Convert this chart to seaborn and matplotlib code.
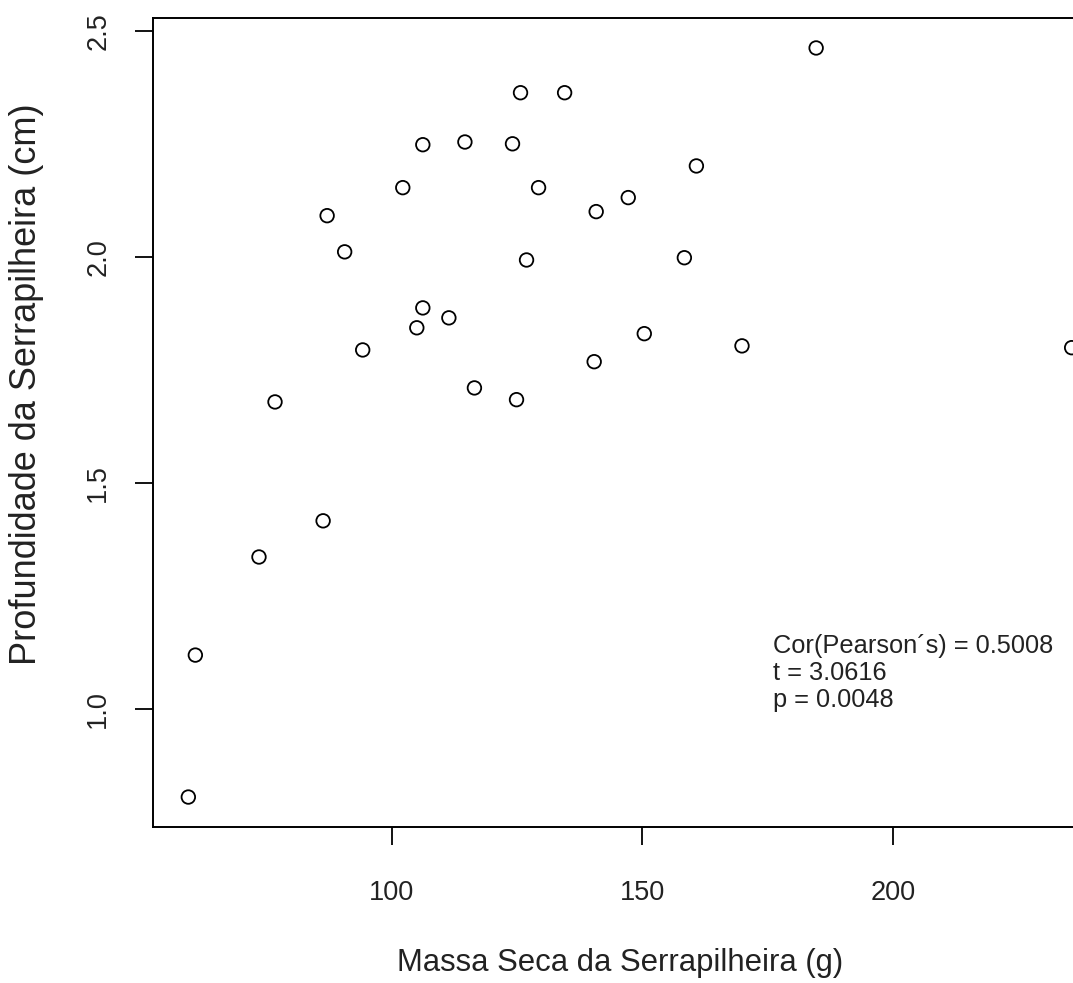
import matplotlib
matplotlib.use("Agg")
import matplotlib.pyplot as plt
import numpy as np
import pandas as pd
import seaborn as sns

# values
massa = [59.4, 60.8, 73.5, 76.7, 86.3, 87.1, 90.6, 94.2, 102.2, 105.0,
         106.2, 106.2, 111.4, 114.6, 116.5, 124.1, 124.9, 125.7, 126.9, 129.3,
         134.5, 140.4, 140.8, 147.2, 150.4, 158.4, 160.8, 169.9, 184.7, 235.7]
profundidade = [0.805, 1.119, 1.336, 1.679, 1.416, 2.091, 2.011, 1.794, 2.153, 1.843,
                1.887, 2.248, 1.865, 2.254, 1.710, 2.250, 1.684, 2.363, 1.993, 2.153,
                2.363, 1.768, 2.100, 2.131, 1.830, 1.998, 2.201, 1.803, 2.462, 1.799]
x_ticks = [100, 150, 200]
y_ticks = [1.0, 1.5, 2.0, 2.5]
stats_lines = ["Cor(Pearson\u00b4s) = 0.5008", "t = 3.0616", "p = 0.0048"]

df = pd.DataFrame({"massa": massa, "prof": profundidade})

sns.set_style("ticks")
plt.rcParams["font.family"] = ["Liberation Sans", "DejaVu Sans"]

fig = plt.figure(figsize=(10.73, 9.83), dpi=100)
# plot region is cut off on the right in the reference
ax = fig.add_axes([153 / 1073, 156 / 983, 954 / 1073, 809 / 983])

sns.scatterplot(data=df, x="massa", y="prof", ax=ax, s=95,
                facecolor="none", edgecolor="black", linewidth=1.3)

# R style 4% padding
def padded(v):
    lo, hi = min(v), max(v)
    d = (hi - lo) * 0.04
    return lo - d, hi + d

ax.set_xlim(padded(massa))
ax.set_ylim(padded(profundidade))

ax.set_xticks(x_ticks)
ax.set_xticklabels([str(t) for t in x_ticks])
ax.set_yticks(y_ticks)
ax.set_yticklabels([f"{t:.1f}" for t in y_ticks], rotation=90, va="center")

ax.tick_params(axis="both", length=13, width=1.3, color="black",
               labelsize=19.5, labelcolor="#222222")
ax.tick_params(axis="x", pad=25)
ax.tick_params(axis="y", pad=17)
for sp in ax.spines.values():
    sp.set_linewidth(1.4)
    sp.set_color("black")
    sp.set_visible(True)

ax.set_xlabel("")
ax.set_ylabel("")
fig.text(620 / 1073, 1 - 963 / 983, "Massa Seca da Serrapilheira (g)",
         ha="center", va="center", fontsize=22.4, color="#222222")
fig.text(27 / 1073, 1 - 384 / 983, "Profundidade da Serrapilheira (cm)",
         ha="center", va="center", rotation=90, fontsize=26, color="#222222")

for i, line in enumerate(stats_lines):
    ax.text(176, 1.124 - i * 0.0598, line, fontsize=18.3, color="#222222",
            ha="left", va="baseline")

fig.savefig("out.png", dpi=100)
